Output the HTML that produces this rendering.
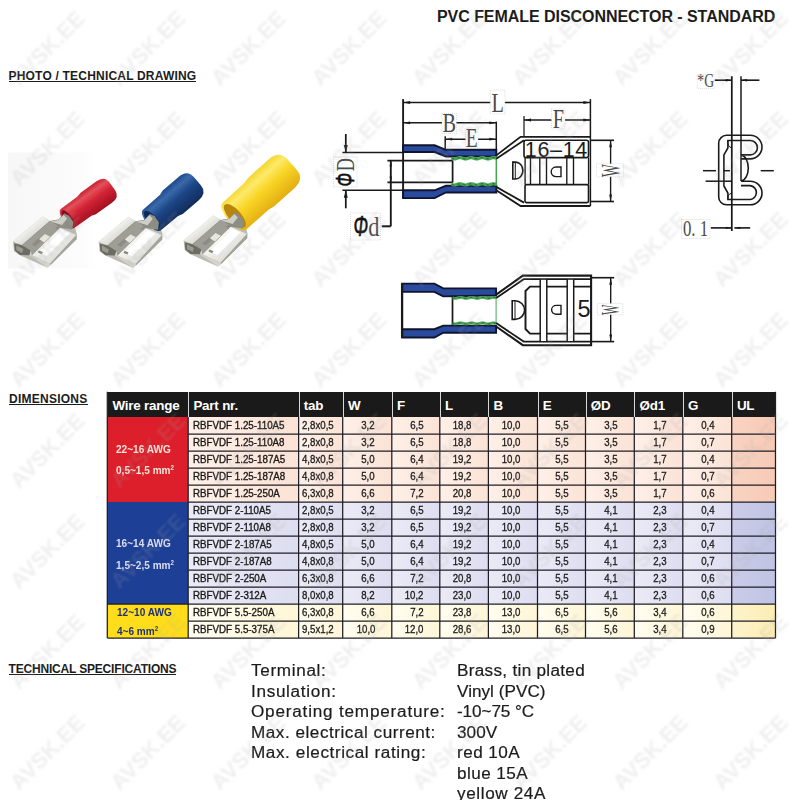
<!DOCTYPE html>
<html lang="en">
<head>
<meta charset="utf-8">
<title>PVC FEMALE DISCONNECTOR - STANDARD</title>
<style>
html,body{margin:0;padding:0;background:#fff;}
body{width:789px;height:800px;position:relative;overflow:hidden;font-family:"Liberation Sans",sans-serif;color:#1a1a1a;}
.abs{position:absolute;white-space:nowrap;}
.title{left:437px;top:7px;font-size:16px;font-weight:bold;line-height:20px;letter-spacing:-0.05px;color:#1c1c1c;}
.sec{font-size:12px;font-weight:bold;line-height:12px;height:11px;color:#1c1c1c;border-bottom:1.3px solid #1c1c1c;padding-bottom:0;}
.th-bg{position:absolute;background:#1b1a1a;}
.th{position:absolute;box-sizing:border-box;color:#fff;font-weight:bold;font-size:13.4px;letter-spacing:-0.2px;padding-left:4.2px;white-space:nowrap;border-left:1px solid #d8d8d8;}
.td{position:absolute;box-sizing:border-box;font-size:10.5px;white-space:nowrap;color:#1a1a1a;-webkit-text-stroke:0.3px #1a1a1a;}
.td span{display:inline-block;transform:scaleX(0.92);}
.r{background:linear-gradient(90deg,#fef0e8,#fbe2d5);}
.b{background:linear-gradient(90deg,#ebebf7,#dcddf0);}
.y{background:linear-gradient(90deg,#fffdf0,#fff6d6);}
.ru{background:linear-gradient(90deg,#f9d3c2,#f7cab6);}
.bu{background:linear-gradient(90deg,#cacce9,#c0c3e3);}
.yu{background:linear-gradient(90deg,#fdf4cc,#fcedb4);}
.pn{padding-left:5px;-webkit-text-stroke:0.35px #1a1a1a;}
.pn span{transform-origin:0 50%;transform:scaleX(0.93);}
.tab{padding-left:3.6px;}
.tab span{transform-origin:0 50%;}
.num{text-align:right;padding-right:16.7px;}
.num span{transform-origin:100% 50%;}
.wr{position:absolute;}
.wl{position:absolute;white-space:nowrap;font-weight:bold;font-size:10.6px;line-height:14px;transform-origin:0 50%;transform:scaleX(0.95);}
.wl sup{font-size:6.5px;vertical-align:baseline;position:relative;top:-4px;}
.spec{font-size:16px;line-height:20.5px;color:#1c1c1c;transform-origin:0 50%;transform:scaleX(1.07);-webkit-text-stroke:0.2px #1c1c1c;}
svg{position:absolute;left:0;top:0;}
svg text{font-family:"Liberation Serif",serif;}
svg .sans{font-family:"Liberation Sans",sans-serif;}
svg .phi{font-style:italic;font-weight:normal;stroke:#111;stroke-width:0.7px;}
</style>
</head>
<body>
<div class="abs title">PVC FEMALE DISCONNECTOR - STANDARD</div>
<div class="abs sec" style="left:8.5px;top:69.5px;letter-spacing:0.2px">PHOTO / TECHNICAL DRAWING</div>
<div class="abs sec" style="left:9px;top:392.5px;letter-spacing:0.25px">DIMENSIONS</div>
<div class="abs sec" style="left:8.5px;top:662.5px;letter-spacing:-0.18px">TECHNICAL SPECIFICATIONS</div><svg width="789" height="800" viewBox="0 0 789 800">
<defs>
<linearGradient id="pbg" x1="0" y1="0" x2="1" y2="0"><stop offset="0" stop-color="#f7f7f7"/><stop offset="0.8" stop-color="#fcfcfc"/><stop offset="1" stop-color="#ffffff"/></linearGradient>
<linearGradient id="gred" x1="0" y1="0" x2="0" y2="1"><stop offset="0" stop-color="#c8202f"/><stop offset="0.22" stop-color="#e3505a"/><stop offset="0.5" stop-color="#d32435"/><stop offset="1" stop-color="#a30f22"/></linearGradient>
<linearGradient id="gblue" x1="0" y1="0" x2="0" y2="1"><stop offset="0" stop-color="#1f4a8c"/><stop offset="0.22" stop-color="#3a68aa"/><stop offset="0.5" stop-color="#1d4686"/><stop offset="1" stop-color="#102c5c"/></linearGradient>
<linearGradient id="gyel" x1="0" y1="0" x2="0" y2="1"><stop offset="0" stop-color="#f5d530"/><stop offset="0.22" stop-color="#fdea6a"/><stop offset="0.5" stop-color="#f9d526"/><stop offset="1" stop-color="#e3ae12"/></linearGradient>
<linearGradient id="gm1" x1="0" y1="0" x2="1" y2="1"><stop offset="0" stop-color="#cdcdc6"/><stop offset="0.4" stop-color="#f2f2ee"/><stop offset="1" stop-color="#b4b4ac"/></linearGradient>
<linearGradient id="gm2" x1="0" y1="0" x2="1" y2="1"><stop offset="0" stop-color="#c9c9c2"/><stop offset="0.35" stop-color="#f6f6f3"/><stop offset="0.7" stop-color="#dededa"/><stop offset="1" stop-color="#b2b2aa"/></linearGradient>
<filter id="soft" x="-5%" y="-5%" width="110%" height="110%"><feGaussianBlur stdDeviation="0.6"/></filter>
<g id="rec">
<polygon points="13.0,241.5 42.6,216.4 50.1,221.0 58.6,219.6 64.3,213.6 73.4,222.1 77.1,234.9 76.6,239.2 50.6,264.9 47.2,267.5 19.8,255.2 14.1,251.2" fill="#bcbcb4"/>
<polygon points="22.1,244.9 49.5,221.0 59.8,227.8 31.8,255.2" fill="#9e9e96"/>
<polygon points="31.8,244.4 39.2,238.1 42.6,239.8 35.2,246.6" fill="#8c8c84"/>
<polygon points="39.2,239.2 44.9,234.1 50.6,236.9 44.4,242.6" fill="#e6e6e0"/>
<polygon points="55.2,227.8 58.6,225.5 60.9,227.8 58.0,230.7" fill="#8d8d85"/>
<polygon points="13.0,241.5 42.6,216.4 50.1,221.0 22.1,245.2" fill="url(#gm1)"/>
<polygon points="14.1,243.2 22.1,245.2 30.7,250.6 29.5,255.2 19.8,255.0 14.7,250.6" fill="#6c6c63"/>
<polygon points="16.4,245.2 23.3,248.9 22.1,252.9 16.4,250.1" fill="#9a9a91"/>
<polygon points="31.8,255.2 59.8,227.8 76.3,234.9 50.1,263.7" fill="url(#gm2)"/>
<polygon points="39.2,252.3 62.0,230.3 69.4,233.5 46.6,256.3" fill="#ffffff"/>
<polygon points="30.7,250.6 31.8,255.2 50.1,263.7 50.6,264.9 47.2,267.5 29.5,255.2" fill="#d4d4cd"/>
<polygon points="38.8,250.4 42.9,252.0 41.7,254.3 37.9,252.6" fill="#8a8a82"/>
<polyline points="22.1,245.2 50.1,221.0" fill="none" stroke="#85857d" stroke-width="0.7"/>
<polyline points="31.8,255.2 59.8,227.8" fill="none" stroke="#8f8f87" stroke-width="0.6"/>
<polygon points="50.1,263.7 76.3,234.9 76.6,239.2 50.6,264.9" fill="#a3a39b"/>
</g>
<g id="neck">
<polygon points="50.1,221.0 58.6,219.6 64.3,213.6 68.9,215.8 73.4,222.1 72.3,229.5 59.8,227.8" fill="#8c8d83"/>
<polygon points="50.6,221.5 58.6,220.1 63.7,215.0 67.2,218.5 62.0,225.0" fill="#cfcfc8"/>
</g></defs>
<g filter="url(#soft)">
<rect x="8" y="152.5" width="92" height="116" fill="url(#pbg)"/>
<use href="#rec" transform="translate(0,0)"/>
<g transform="translate(67.5,218.5) rotate(-35.8)">
<path d="M0,-11.6 L21.0,-11.9 L25.4,-13.2 L45.3,-13.2 Q55.2,-13.2 55.2,-4.6 L55.2,4.6 Q55.2,13.2 45.3,13.2 L25.4,13.2 L21.0,11.9 L0,11.6 A4.9,11.6 0 0 1 0,-11.6 Z" fill="url(#gred)"/>
<ellipse cx="0.3" cy="0" rx="3.9" ry="9.7" fill="#8e1020"/>
</g>
<use href="#neck" transform="translate(0,0)"/>
<use href="#rec" transform="translate(85.6,0.3)"/>
<g transform="translate(151.8,220.1) rotate(-40.5)">
<path d="M0,-13.6 L22.7,-13.9 L27.5,-15.4 L48.3,-15.4 Q59.9,-15.4 59.9,-5.4 L59.9,5.4 Q59.9,15.4 48.3,15.4 L27.5,15.4 L22.7,13.9 L0,13.6 A5.7,13.6 0 0 1 0,-13.6 Z" fill="url(#gblue)"/>
<ellipse cx="0.3" cy="0" rx="4.6" ry="11.4" fill="#0f2a55"/>
</g>
<use href="#neck" transform="translate(85.6,0.3)"/>
<use href="#rec" transform="translate(170.6,-1)"/>
<g transform="translate(234.6,216.0) rotate(-42.0)">
<path d="M0,-17.8 L29.3,-18.1 L35.5,-19.3 L62.7,-19.3 Q77.2,-19.3 77.2,-6.8 L77.2,6.8 Q77.2,19.3 62.7,19.3 L35.5,19.3 L29.3,18.1 L0,17.8 A7.5,17.8 0 0 1 0,-17.8 Z" fill="url(#gyel)"/>
<ellipse cx="0.3" cy="0" rx="6.1" ry="15.0" fill="#b8860e"/>
</g>
<use href="#neck" transform="translate(170.6,-1)"/>
</g>
</svg><svg width="789" height="800" viewBox="0 0 789 800">
<line x1="403.1" y1="99.1" x2="403.1" y2="198.1" stroke="#1a1a1a" stroke-width="1.9" />
<line x1="590.4" y1="99.1" x2="590.4" y2="206.0" stroke="#1a1a1a" stroke-width="1.5" />
<line x1="403.1" y1="102.5" x2="590.4" y2="102.5" stroke="#1a1a1a" stroke-width="1.375" />
<polygon points="403.1,102.5 410.1,101.1 410.1,103.9" fill="#1a1a1a"/>
<polygon points="590.4,102.5 583.4,103.9 583.4,101.1" fill="#1a1a1a"/>
<line x1="403.1" y1="122.8" x2="496.3" y2="122.8" stroke="#1a1a1a" stroke-width="1.375" />
<polygon points="403.1,122.8 410.1,121.4 410.1,124.2" fill="#1a1a1a"/>
<polygon points="496.3,122.8 489.3,124.2 489.3,121.4" fill="#1a1a1a"/>
<line x1="496.3" y1="121.6" x2="496.3" y2="156.5" stroke="#1a1a1a" stroke-width="1.5" />
<line x1="445.2" y1="136.3" x2="445.2" y2="156.0" stroke="#1a1a1a" stroke-width="1.5" />
<line x1="445.2" y1="139.2" x2="496.3" y2="139.2" stroke="#1a1a1a" stroke-width="1.375" />
<polygon points="445.2,139.2 452.2,137.8 452.2,140.6" fill="#1a1a1a"/>
<polygon points="496.3,139.2 489.3,140.6 489.3,137.8" fill="#1a1a1a"/>
<line x1="524.0" y1="116.0" x2="524.0" y2="136.3" stroke="#1a1a1a" stroke-width="1.25" />
<line x1="524.0" y1="120.0" x2="590.4" y2="120.0" stroke="#1a1a1a" stroke-width="1.375" />
<polygon points="524.0,120.0 531.0,118.6 531.0,121.4" fill="#1a1a1a"/>
<polygon points="590.4,120.0 583.4,121.4 583.4,118.6" fill="#1a1a1a"/>
<line x1="590.4" y1="140.3" x2="614.0" y2="140.3" stroke="#1a1a1a" stroke-width="1.625" />
<line x1="590.4" y1="201.5" x2="614.0" y2="201.5" stroke="#1a1a1a" stroke-width="1.625" />
<line x1="610.6" y1="140.3" x2="610.6" y2="201.5" stroke="#1a1a1a" stroke-width="1.375" />
<polygon points="610.6,140.3 612.0,147.3 609.2,147.3" fill="#1a1a1a"/>
<polygon points="610.6,201.5 609.2,194.5 612.0,194.5" fill="#1a1a1a"/>
<line x1="342.4" y1="152.5" x2="403.1" y2="152.5" stroke="#1a1a1a" stroke-width="1.6" />
<line x1="342.4" y1="190.3" x2="403.1" y2="190.3" stroke="#1a1a1a" stroke-width="1.6" />
<line x1="345.8" y1="134.0" x2="345.8" y2="152.5" stroke="#1a1a1a" stroke-width="1.75" />
<polygon points="345.8,152.5 343.8,145.0 347.8,145.0" fill="#1a1a1a"/>
<line x1="345.8" y1="208.3" x2="345.8" y2="190.3" stroke="#1a1a1a" stroke-width="1.75" />
<polygon points="345.8,190.3 347.8,197.8 343.8,197.8" fill="#1a1a1a"/>
<line x1="387.4" y1="160.6" x2="452.6" y2="160.6" stroke="#1a1a1a" stroke-width="1.6" />
<line x1="387.4" y1="182.4" x2="452.6" y2="182.4" stroke="#1a1a1a" stroke-width="1.6" />
<line x1="390.8" y1="160.6" x2="390.8" y2="226.3" stroke="#1a1a1a" stroke-width="1.875" />
<line x1="390.8" y1="226.3" x2="381.8" y2="226.3" stroke="#1a1a1a" stroke-width="2" />
<polygon points="390.8,160.6 392.0,166.6 389.6,166.6" fill="#1a1a1a"/>
<polygon points="390.8,182.4 389.6,176.4 392.0,176.4" fill="#1a1a1a"/>
<polygon points="403.1,145.3 434.6,145.3 445.9,149.8 496.3,149.8 496.3,156.5 445.9,156.5 434.6,152.0 403.1,152.0" fill="#2a4a9e" stroke="#10152e" stroke-width="1.9" />
<polygon points="403.1,190.3 434.6,190.3 445.9,185.8 496.3,185.8 496.3,192.5 445.9,192.5 434.6,198.1 403.1,198.1" fill="#2a4a9e" stroke="#10152e" stroke-width="1.9" />
<polyline points="451.5,158.2 453.4,158.8 455.2,158.8 457.1,158.2 459.0,157.6 460.8,157.6 462.7,158.2 464.6,158.8 466.4,158.8 468.3,158.2 470.2,157.6 472.0,157.6 473.9,158.2 475.8,158.8 477.6,158.8 479.5,158.2 481.4,157.6 483.2,157.6 485.1,158.2 487.0,158.8 488.8,158.8 490.7,158.2 492.6,157.6 494.4,157.6 496.3,158.2" fill="none" stroke="#47a552" stroke-width="3.2" />
<polyline points="451.5,158.2 453.4,158.8 455.2,158.8 457.1,158.2 459.0,157.6 460.8,157.6 462.7,158.2 464.6,158.8 466.4,158.8 468.3,158.2 470.2,157.6 472.0,157.6 473.9,158.2 475.8,158.8 477.6,158.8 479.5,158.2 481.4,157.6 483.2,157.6 485.1,158.2 487.0,158.8 488.8,158.8 490.7,158.2 492.6,157.6 494.4,157.6 496.3,158.2" fill="none" stroke="#1f5a2c" stroke-width="0.9" stroke-dasharray="2.5 3.5"/>
<polyline points="451.5,184.4 453.4,185.0 455.2,185.0 457.1,184.4 459.0,183.8 460.8,183.8 462.7,184.4 464.6,185.0 466.4,185.0 468.3,184.4 470.2,183.8 472.0,183.8 473.9,184.4 475.8,185.0 477.6,185.0 479.5,184.4 481.4,183.8 483.2,183.8 485.1,184.4 487.0,185.0 488.8,185.0 490.7,184.4 492.6,183.8 494.4,183.8 496.3,184.4" fill="none" stroke="#47a552" stroke-width="3.2" />
<polyline points="451.5,184.4 453.4,185.0 455.2,185.0 457.1,184.4 459.0,183.8 460.8,183.8 462.7,184.4 464.6,185.0 466.4,185.0 468.3,184.4 470.2,183.8 472.0,183.8 473.9,184.4 475.8,185.0 477.6,185.0 479.5,184.4 481.4,183.8 483.2,183.8 485.1,184.4 487.0,185.0 488.8,185.0 490.7,184.4 492.6,183.8 494.4,183.8 496.3,184.4" fill="none" stroke="#1f5a2c" stroke-width="0.9" stroke-dasharray="2.5 3.5"/>
<line x1="496.3" y1="156.5" x2="496.3" y2="185.8" stroke="#47a552" stroke-width="1.5" />
<line x1="452.6" y1="160.6" x2="452.6" y2="182.4" stroke="#1a1a1a" stroke-width="1.75" />
<polyline points="496.3,155.4 520.6,136.8 590.4,136.8" fill="none" stroke="#1a1a1a" stroke-width="1.7999999999999998" />
<polyline points="496.3,158.8 524.0,140.3" fill="none" stroke="#1a1a1a" stroke-width="1.7999999999999998" />
<polyline points="496.3,190.3 520.6,206.0 590.4,206.0" fill="none" stroke="#1a1a1a" stroke-width="1.7999999999999998" />
<polyline points="496.3,186.9 524.0,202.6" fill="none" stroke="#1a1a1a" stroke-width="1.7999999999999998" />
<rect x="524" y="140.3" width="64.5" height="17.3" rx="2" fill="#fff" stroke="#1a1a1a" stroke-width="1.6"/>
<rect x="525" y="184.6" width="63.5" height="18" rx="1.5" fill="#fff" stroke="#1a1a1a" stroke-width="1.6"/>
<line x1="588.5" y1="157.6" x2="588.5" y2="184.6" stroke="#1a1a1a" stroke-width="1.25" />
<line x1="525.1" y1="157.6" x2="525.1" y2="184.6" stroke="#1a1a1a" stroke-width="1.375" />
<line x1="530.5" y1="157.6" x2="530.5" y2="184.6" stroke="#1a1a1a" stroke-width="1.375" />
<line x1="539.8" y1="157.6" x2="539.8" y2="184.6" stroke="#1a1a1a" stroke-width="1.375" />
<line x1="546.5" y1="157.6" x2="546.5" y2="184.6" stroke="#1a1a1a" stroke-width="1.375" />
<line x1="566.8" y1="157.6" x2="566.8" y2="184.6" stroke="#1a1a1a" stroke-width="1.375" />
<line x1="573.5" y1="157.6" x2="573.5" y2="184.6" stroke="#1a1a1a" stroke-width="1.375" />
<path d="M512.8,162.1 L515.5,162.1 A7.4,8.45 0 0 1 515.5,179 L512.8,179 Z" fill="#fff" stroke="#1a1a1a" stroke-width="1.6"/>
<line x1="515.3" y1="162.1" x2="515.3" y2="179.0" stroke="#1a1a1a" stroke-width="1.0" />
<path d="M561,167 L556,167 A4.8,4.8 0 0 0 556,176.6 L561,176.6 Z" fill="#fff" stroke="#1a1a1a" stroke-width="1.4"/>
<text class="sans" x="524.8" y="156.6" font-size="21.5" textLength="62.5" lengthAdjust="spacing" fill="#1a1a1a">16–14</text>
<rect x="490.3" y="90.1" width="14.6" height="23.7" fill="#fff" stroke="#c8c8c8" stroke-width="0.6" stroke-dasharray="1 1"/>
<text transform="translate(497.6,111.5) scale(0.75,1)" font-size="27" text-anchor="middle" fill="#4a4a4a">L</text>
<rect x="442.0" y="113.5" width="14.5" height="20.0" fill="#fff" stroke="#c8c8c8" stroke-width="0.6" stroke-dasharray="1 1"/>
<text transform="translate(449.3,131.8) scale(0.75,1)" font-size="27" text-anchor="middle" fill="#4a4a4a">B</text>
<rect x="465.5" y="128.0" width="12.5" height="20.0" fill="#fff" stroke="#c8c8c8" stroke-width="0.6" stroke-dasharray="1 1"/>
<text transform="translate(471.7,146.6) scale(0.72,1)" font-size="27" text-anchor="middle" fill="#4a4a4a">E</text>
<rect x="551.5" y="109.0" width="13.5" height="20.0" fill="#fff" stroke="#c8c8c8" stroke-width="0.6" stroke-dasharray="1 1"/>
<text transform="translate(558.3,127.5) scale(0.75,1)" font-size="27" text-anchor="middle" fill="#4a4a4a">F</text>
<rect x="596.5" y="163.7" width="27.1" height="13.1" fill="#fff" stroke="#c8c8c8" stroke-width="0.6" stroke-dasharray="1 1"/>
<text transform="translate(619.8,170.6) rotate(-90) scale(0.5,1)" font-size="27" text-anchor="middle" fill="#4a4a4a">W</text>
<rect x="333.5" y="157.0" width="23.5" height="30.0" fill="#fff" stroke="#c8c8c8" stroke-width="0.6" stroke-dasharray="1 1"/>
<text class="sans phi" transform="translate(354.3,179.8) rotate(-90) scale(0.62,1)" font-size="26" text-anchor="middle" fill="#111">Φ</text>
<text transform="translate(354.0,164.6) rotate(-90) scale(0.7,1)" font-size="26" text-anchor="middle" fill="#4a4a4a">D</text>
<rect x="350.5" y="213.0" width="30.0" height="27.0" fill="#fff" stroke="#c8c8c8" stroke-width="0.6" stroke-dasharray="1 1"/>
<text class="sans phi" transform="translate(360.8,236.3) scale(0.6,1)" font-size="29" text-anchor="middle" fill="#111">Φ</text>
<text transform="translate(373.8,236.3) scale(0.8,1)" font-size="28" text-anchor="middle" fill="#4a4a4a">d</text>
<polygon points="402.1,283.6 434.4,283.6 443.2,288.4 496.1,288.4 496.1,295.5 443.2,296.4 434.4,291.9 402.1,291.9" fill="#2a4a9e" stroke="#10152e" stroke-width="1.9" />
<polygon points="402.1,329.2 434.4,329.2 443.2,325.6 496.1,325.6 496.1,332.7 443.2,332.7 434.4,337.5 402.1,337.5" fill="#2a4a9e" stroke="#10152e" stroke-width="1.9" />
<line x1="402.1" y1="283.6" x2="402.1" y2="337.5" stroke="#1a1a1a" stroke-width="2.3" />
<line x1="452.5" y1="295.5" x2="452.5" y2="325.6" stroke="#1a1a1a" stroke-width="1.75" />
<polyline points="452.5,297.8 454.3,298.3 456.1,298.3 457.9,297.8 459.8,297.3 461.6,297.3 463.4,297.8 465.2,298.3 467.0,298.3 468.9,297.8 470.7,297.3 472.5,297.3 474.3,297.8 476.1,298.3 477.9,298.3 479.8,297.8 481.6,297.3 483.4,297.3 485.2,297.8 487.0,298.3 488.8,298.3 490.7,297.8 492.5,297.3 494.3,297.3 496.1,297.8" fill="none" stroke="#47a552" stroke-width="2.8" />
<polyline points="452.5,297.8 454.3,298.3 456.1,298.3 457.9,297.8 459.8,297.3 461.6,297.3 463.4,297.8 465.2,298.3 467.0,298.3 468.9,297.8 470.7,297.3 472.5,297.3 474.3,297.8 476.1,298.3 477.9,298.3 479.8,297.8 481.6,297.3 483.4,297.3 485.2,297.8 487.0,298.3 488.8,298.3 490.7,297.8 492.5,297.3 494.3,297.3 496.1,297.8" fill="none" stroke="#1f5a2c" stroke-width="0.9" stroke-dasharray="2.5 3.5"/>
<polyline points="452.5,323.4 454.3,323.9 456.1,323.9 457.9,323.4 459.8,322.9 461.6,322.9 463.4,323.4 465.2,323.9 467.0,323.9 468.9,323.4 470.7,322.9 472.5,322.9 474.3,323.4 476.1,323.9 477.9,323.9 479.8,323.4 481.6,322.9 483.4,322.9 485.2,323.4 487.0,323.9 488.8,323.9 490.7,323.4 492.5,322.9 494.3,322.9 496.1,323.4" fill="none" stroke="#47a552" stroke-width="2.8" />
<polyline points="452.5,323.4 454.3,323.9 456.1,323.9 457.9,323.4 459.8,322.9 461.6,322.9 463.4,323.4 465.2,323.9 467.0,323.9 468.9,323.4 470.7,322.9 472.5,322.9 474.3,323.4 476.1,323.9 477.9,323.9 479.8,323.4 481.6,322.9 483.4,322.9 485.2,323.4 487.0,323.9 488.8,323.9 490.7,323.4 492.5,322.9 494.3,322.9 496.1,323.4" fill="none" stroke="#1f5a2c" stroke-width="0.9" stroke-dasharray="2.5 3.5"/>
<line x1="496.1" y1="297.0" x2="496.1" y2="324.0" stroke="#47a552" stroke-width="1.0" />
<polyline points="496.2,294.6 522.8,275.6 591.1,275.6 591.1,345.2 522.8,345.2 496.2,326.5" fill="none" stroke="#1a1a1a" stroke-width="2.0999999999999996" />
<polyline points="496.2,298.1 523.7,279.2 591.1,279.2" fill="none" stroke="#1a1a1a" stroke-width="1.7999999999999998" />
<polyline points="496.2,323.0 523.7,341.6 591.1,341.6" fill="none" stroke="#1a1a1a" stroke-width="1.7999999999999998" />
<polyline points="591.0,286.6 530.0,286.6 525.5,291.0 525.5,329.0 530.0,333.6 591.0,333.6" fill="none" stroke="#1a1a1a" stroke-width="1.9500000000000002" />
<rect x="540.2" y="279.8" width="6.6" height="61.2" fill="#fff" stroke="none" stroke-width="1" />
<line x1="540.2" y1="279.2" x2="540.2" y2="341.6" stroke="#1a1a1a" stroke-width="1.5" />
<line x1="546.8" y1="279.2" x2="546.8" y2="341.6" stroke="#1a1a1a" stroke-width="1.5" />
<rect x="567.2" y="279.8" width="6.5" height="61.2" fill="#fff" stroke="none" stroke-width="1" />
<line x1="567.2" y1="279.2" x2="567.2" y2="341.6" stroke="#1a1a1a" stroke-width="1.5" />
<line x1="573.7" y1="279.2" x2="573.7" y2="341.6" stroke="#1a1a1a" stroke-width="1.5" />
<path d="M512.2,300.8 L515,300.8 A9.6,9.3 0 0 1 515,319.4 L512.2,319.4 Z" fill="#fff" stroke="#1a1a1a" stroke-width="1.6"/>
<line x1="515.0" y1="300.8" x2="515.0" y2="319.4" stroke="#1a1a1a" stroke-width="1.0" />
<path d="M561,305.4 L556.3,305.4 A4.7,4.4 0 0 0 556.3,314.2 L561,314.2 Z" fill="#fff" stroke="#1a1a1a" stroke-width="1.4"/>
<text class="sans" x="577.5" y="316.8" font-size="23.5" fill="#1a1a1a">5</text>
<line x1="591.1" y1="277.7" x2="614.2" y2="277.7" stroke="#1a1a1a" stroke-width="1.625" />
<line x1="591.1" y1="341.6" x2="614.2" y2="341.6" stroke="#1a1a1a" stroke-width="1.625" />
<line x1="610.7" y1="277.7" x2="610.7" y2="341.6" stroke="#1a1a1a" stroke-width="1.375" />
<polygon points="610.7,277.7 612.1,284.7 609.3,284.7" fill="#1a1a1a"/>
<polygon points="610.7,341.6 609.3,334.6 612.1,334.6" fill="#1a1a1a"/>
<rect x="597.4" y="303.4" width="25.5" height="11.4" fill="#fff" stroke="#c8c8c8" stroke-width="0.6" stroke-dasharray="1 1"/>
<text transform="translate(619.4,309.8) rotate(-90) scale(0.42,1)" font-size="26" text-anchor="middle" fill="#4a4a4a">W</text>
<line x1="731.8" y1="76.2" x2="731.8" y2="231.0" stroke="#1a1a1a" stroke-width="1.75" />
<line x1="741.0" y1="76.2" x2="741.0" y2="181.0" stroke="#1a1a1a" stroke-width="1.5" />
<line x1="714.8" y1="80.2" x2="731.8" y2="80.2" stroke="#1a1a1a" stroke-width="1.625" />
<polygon points="731.8,80.2 725.8,81.4 725.8,79.0" fill="#1a1a1a"/>
<line x1="759.4" y1="80.2" x2="741.0" y2="80.2" stroke="#1a1a1a" stroke-width="1.625" />
<polygon points="741.0,80.2 747.0,79.0 747.0,81.4" fill="#1a1a1a"/>
<path d="M741,158.9 L750.2,158.9 A11.8,11.8 0 0 0 750.2,135.3 L726.6,135.3 A7.9,7.9 0 0 0 718.7,143.1 L718.7,196.9 A7.9,7.9 0 0 0 726.6,204.8 L750.2,204.8 A11.8,11.8 0 0 0 750.2,181.2 L741,181.2" fill="none" stroke="#1a1a1a" stroke-width="1.6"/>
<path d="M741,154.9 L750.2,154.9 A7.2,7.2 0 0 0 750.2,140.5 L727.9,140.5 L727.9,148 L723.9,154.9 L723.9,186 L727.9,193 L727.9,199.5 L750.2,199.5 A7,7 0 0 0 750.2,185.6 L741,185.6" fill="none" stroke="#1a1a1a" stroke-width="1.6"/>
<path d="M741,154.9 A8,13.2 0 0 1 741,181.2" fill="none" stroke="#1a1a1a" stroke-width="1.6"/>
<path d="M731.8,148 A5,6 0 0 1 727.9,140.5 M731.8,193 A5,6 0 0 0 727.9,199.5" fill="none" stroke="#1a1a1a" stroke-width="1"/>
<line x1="703.0" y1="170.7" x2="716.0" y2="170.7" stroke="#1a1a1a" stroke-width="1.5" />
<line x1="724.0" y1="170.7" x2="730.0" y2="170.7" stroke="#1a1a1a" stroke-width="1.5" />
<line x1="760.7" y1="170.7" x2="773.8" y2="170.7" stroke="#1a1a1a" stroke-width="1.5" />
<line x1="705.6" y1="181.2" x2="731.8" y2="181.2" stroke="#1a1a1a" stroke-width="1.5" />
<line x1="710.8" y1="227.9" x2="731.8" y2="227.9" stroke="#1a1a1a" stroke-width="1.625" />
<polygon points="731.8,227.9 725.8,229.1 725.8,226.7" fill="#1a1a1a"/>
<line x1="750.2" y1="227.9" x2="734.4" y2="227.9" stroke="#1a1a1a" stroke-width="1.625" />
<polygon points="734.4,227.9 740.4,226.7 740.4,229.1" fill="#1a1a1a"/>
<rect x="697.2" y="74.5" width="16.8" height="14.0" fill="#fff" stroke="#c8c8c8" stroke-width="0.6" stroke-dasharray="1 1"/>
<text transform="translate(705.7,86.5) scale(0.72,1)" font-size="19" text-anchor="middle" fill="#4a4a4a">*G</text>
<rect x="681.5" y="219.5" width="28.5" height="19.0" fill="#fff" stroke="#c8c8c8" stroke-width="0.6" stroke-dasharray="1 1"/>
<text transform="translate(695.5,236.0) scale(0.7,1)" font-size="24" text-anchor="middle" fill="#4a4a4a">0. 1</text>
</svg><div class="th-bg" style="left:107.3px;top:391.8px;width:668.2px;height:25.2px"></div>
<div class="th" style="left:107.3px;top:391.8px;width:80.9px;height:25.2px;line-height:27.2px">Wire range</div>
<div class="th" style="left:188.2px;top:391.8px;width:110.4px;height:25.2px;line-height:27.2px">Part nr.</div>
<div class="th" style="left:298.6px;top:391.8px;width:44.1px;height:25.2px;line-height:27.2px">tab</div>
<div class="th" style="left:342.7px;top:391.8px;width:49.1px;height:25.2px;line-height:27.2px">W</div>
<div class="th" style="left:391.8px;top:391.8px;width:48.0px;height:25.2px;line-height:27.2px">F</div>
<div class="th" style="left:439.8px;top:391.8px;width:48.6px;height:25.2px;line-height:27.2px">L</div>
<div class="th" style="left:488.4px;top:391.8px;width:49.1px;height:25.2px;line-height:27.2px">B</div>
<div class="th" style="left:537.5px;top:391.8px;width:48.0px;height:25.2px;line-height:27.2px">E</div>
<div class="th" style="left:585.5px;top:391.8px;width:48.8px;height:25.2px;line-height:27.2px">ØD</div>
<div class="th" style="left:634.3px;top:391.8px;width:48.5px;height:25.2px;line-height:27.2px">Ød1</div>
<div class="th" style="left:682.8px;top:391.8px;width:48.9px;height:25.2px;line-height:27.2px">G</div>
<div class="th" style="left:731.7px;top:391.8px;width:43.8px;height:25.2px;line-height:27.2px">UL</div>
<div class="td r pn" style="left:188.2px;top:417.00px;width:110.4px;height:17.0px;line-height:17.3px"><span>RBFVDF 1.25-110A5</span></div>
<div class="td r tab" style="left:298.6px;top:417.00px;width:44.1px;height:17.0px;line-height:17.3px"><span>2,8x0,5</span></div>
<div class="td r num" style="left:342.7px;top:417.00px;width:49.1px;height:17.0px;line-height:17.3px"><span>3,2</span></div>
<div class="td r num" style="left:391.8px;top:417.00px;width:48.0px;height:17.0px;line-height:17.3px"><span>6,5</span></div>
<div class="td r num" style="left:439.8px;top:417.00px;width:48.6px;height:17.0px;line-height:17.3px"><span>18,8</span></div>
<div class="td r num" style="left:488.4px;top:417.00px;width:49.1px;height:17.0px;line-height:17.3px"><span>10,0</span></div>
<div class="td r num" style="left:537.5px;top:417.00px;width:48.0px;height:17.0px;line-height:17.3px"><span>5,5</span></div>
<div class="td r num" style="left:585.5px;top:417.00px;width:48.8px;height:17.0px;line-height:17.3px"><span>3,5</span></div>
<div class="td r num" style="left:634.3px;top:417.00px;width:48.5px;height:17.0px;line-height:17.3px"><span>1,7</span></div>
<div class="td r num" style="left:682.8px;top:417.00px;width:48.9px;height:17.0px;line-height:17.3px"><span>0,4</span></div>
<div class="td ru" style="left:731.7px;top:417.00px;width:43.8px;height:17.0px"></div>
<div class="td r pn" style="left:188.2px;top:434.00px;width:110.4px;height:17.0px;line-height:17.3px"><span>RBFVDF 1.25-110A8</span></div>
<div class="td r tab" style="left:298.6px;top:434.00px;width:44.1px;height:17.0px;line-height:17.3px"><span>2,8x0,8</span></div>
<div class="td r num" style="left:342.7px;top:434.00px;width:49.1px;height:17.0px;line-height:17.3px"><span>3,2</span></div>
<div class="td r num" style="left:391.8px;top:434.00px;width:48.0px;height:17.0px;line-height:17.3px"><span>6,5</span></div>
<div class="td r num" style="left:439.8px;top:434.00px;width:48.6px;height:17.0px;line-height:17.3px"><span>18,8</span></div>
<div class="td r num" style="left:488.4px;top:434.00px;width:49.1px;height:17.0px;line-height:17.3px"><span>10,0</span></div>
<div class="td r num" style="left:537.5px;top:434.00px;width:48.0px;height:17.0px;line-height:17.3px"><span>5,5</span></div>
<div class="td r num" style="left:585.5px;top:434.00px;width:48.8px;height:17.0px;line-height:17.3px"><span>3,5</span></div>
<div class="td r num" style="left:634.3px;top:434.00px;width:48.5px;height:17.0px;line-height:17.3px"><span>1,7</span></div>
<div class="td r num" style="left:682.8px;top:434.00px;width:48.9px;height:17.0px;line-height:17.3px"><span>0,7</span></div>
<div class="td ru" style="left:731.7px;top:434.00px;width:43.8px;height:17.0px"></div>
<div class="td r pn" style="left:188.2px;top:451.00px;width:110.4px;height:17.0px;line-height:17.3px"><span>RBFVDF 1.25-187A5</span></div>
<div class="td r tab" style="left:298.6px;top:451.00px;width:44.1px;height:17.0px;line-height:17.3px"><span>4,8x0,5</span></div>
<div class="td r num" style="left:342.7px;top:451.00px;width:49.1px;height:17.0px;line-height:17.3px"><span>5,0</span></div>
<div class="td r num" style="left:391.8px;top:451.00px;width:48.0px;height:17.0px;line-height:17.3px"><span>6,4</span></div>
<div class="td r num" style="left:439.8px;top:451.00px;width:48.6px;height:17.0px;line-height:17.3px"><span>19,2</span></div>
<div class="td r num" style="left:488.4px;top:451.00px;width:49.1px;height:17.0px;line-height:17.3px"><span>10,0</span></div>
<div class="td r num" style="left:537.5px;top:451.00px;width:48.0px;height:17.0px;line-height:17.3px"><span>5,5</span></div>
<div class="td r num" style="left:585.5px;top:451.00px;width:48.8px;height:17.0px;line-height:17.3px"><span>3,5</span></div>
<div class="td r num" style="left:634.3px;top:451.00px;width:48.5px;height:17.0px;line-height:17.3px"><span>1,7</span></div>
<div class="td r num" style="left:682.8px;top:451.00px;width:48.9px;height:17.0px;line-height:17.3px"><span>0,4</span></div>
<div class="td ru" style="left:731.7px;top:451.00px;width:43.8px;height:17.0px"></div>
<div class="td r pn" style="left:188.2px;top:468.00px;width:110.4px;height:17.0px;line-height:17.3px"><span>RBFVDF 1.25-187A8</span></div>
<div class="td r tab" style="left:298.6px;top:468.00px;width:44.1px;height:17.0px;line-height:17.3px"><span>4,8x0,8</span></div>
<div class="td r num" style="left:342.7px;top:468.00px;width:49.1px;height:17.0px;line-height:17.3px"><span>5,0</span></div>
<div class="td r num" style="left:391.8px;top:468.00px;width:48.0px;height:17.0px;line-height:17.3px"><span>6,4</span></div>
<div class="td r num" style="left:439.8px;top:468.00px;width:48.6px;height:17.0px;line-height:17.3px"><span>19,2</span></div>
<div class="td r num" style="left:488.4px;top:468.00px;width:49.1px;height:17.0px;line-height:17.3px"><span>10,0</span></div>
<div class="td r num" style="left:537.5px;top:468.00px;width:48.0px;height:17.0px;line-height:17.3px"><span>5,5</span></div>
<div class="td r num" style="left:585.5px;top:468.00px;width:48.8px;height:17.0px;line-height:17.3px"><span>3,5</span></div>
<div class="td r num" style="left:634.3px;top:468.00px;width:48.5px;height:17.0px;line-height:17.3px"><span>1,7</span></div>
<div class="td r num" style="left:682.8px;top:468.00px;width:48.9px;height:17.0px;line-height:17.3px"><span>0,7</span></div>
<div class="td ru" style="left:731.7px;top:468.00px;width:43.8px;height:17.0px"></div>
<div class="td r pn" style="left:188.2px;top:485.00px;width:110.4px;height:17.0px;line-height:17.3px"><span>RBFVDF 1.25-250A</span></div>
<div class="td r tab" style="left:298.6px;top:485.00px;width:44.1px;height:17.0px;line-height:17.3px"><span>6,3x0,8</span></div>
<div class="td r num" style="left:342.7px;top:485.00px;width:49.1px;height:17.0px;line-height:17.3px"><span>6,6</span></div>
<div class="td r num" style="left:391.8px;top:485.00px;width:48.0px;height:17.0px;line-height:17.3px"><span>7,2</span></div>
<div class="td r num" style="left:439.8px;top:485.00px;width:48.6px;height:17.0px;line-height:17.3px"><span>20,8</span></div>
<div class="td r num" style="left:488.4px;top:485.00px;width:49.1px;height:17.0px;line-height:17.3px"><span>10,0</span></div>
<div class="td r num" style="left:537.5px;top:485.00px;width:48.0px;height:17.0px;line-height:17.3px"><span>5,5</span></div>
<div class="td r num" style="left:585.5px;top:485.00px;width:48.8px;height:17.0px;line-height:17.3px"><span>3,5</span></div>
<div class="td r num" style="left:634.3px;top:485.00px;width:48.5px;height:17.0px;line-height:17.3px"><span>1,7</span></div>
<div class="td r num" style="left:682.8px;top:485.00px;width:48.9px;height:17.0px;line-height:17.3px"><span>0,6</span></div>
<div class="td ru" style="left:731.7px;top:485.00px;width:43.8px;height:17.0px"></div>
<div class="td b pn" style="left:188.2px;top:502.00px;width:110.4px;height:17.0px;line-height:17.3px"><span>RBFVDF 2-110A5</span></div>
<div class="td b tab" style="left:298.6px;top:502.00px;width:44.1px;height:17.0px;line-height:17.3px"><span>2,8x0,5</span></div>
<div class="td b num" style="left:342.7px;top:502.00px;width:49.1px;height:17.0px;line-height:17.3px"><span>3,2</span></div>
<div class="td b num" style="left:391.8px;top:502.00px;width:48.0px;height:17.0px;line-height:17.3px"><span>6,5</span></div>
<div class="td b num" style="left:439.8px;top:502.00px;width:48.6px;height:17.0px;line-height:17.3px"><span>19,2</span></div>
<div class="td b num" style="left:488.4px;top:502.00px;width:49.1px;height:17.0px;line-height:17.3px"><span>10,0</span></div>
<div class="td b num" style="left:537.5px;top:502.00px;width:48.0px;height:17.0px;line-height:17.3px"><span>5,5</span></div>
<div class="td b num" style="left:585.5px;top:502.00px;width:48.8px;height:17.0px;line-height:17.3px"><span>4,1</span></div>
<div class="td b num" style="left:634.3px;top:502.00px;width:48.5px;height:17.0px;line-height:17.3px"><span>2,3</span></div>
<div class="td b num" style="left:682.8px;top:502.00px;width:48.9px;height:17.0px;line-height:17.3px"><span>0,4</span></div>
<div class="td bu" style="left:731.7px;top:502.00px;width:43.8px;height:17.0px"></div>
<div class="td b pn" style="left:188.2px;top:519.00px;width:110.4px;height:17.0px;line-height:17.3px"><span>RBFVDF 2-110A8</span></div>
<div class="td b tab" style="left:298.6px;top:519.00px;width:44.1px;height:17.0px;line-height:17.3px"><span>2,8x0,8</span></div>
<div class="td b num" style="left:342.7px;top:519.00px;width:49.1px;height:17.0px;line-height:17.3px"><span>3,2</span></div>
<div class="td b num" style="left:391.8px;top:519.00px;width:48.0px;height:17.0px;line-height:17.3px"><span>6,5</span></div>
<div class="td b num" style="left:439.8px;top:519.00px;width:48.6px;height:17.0px;line-height:17.3px"><span>19,2</span></div>
<div class="td b num" style="left:488.4px;top:519.00px;width:49.1px;height:17.0px;line-height:17.3px"><span>10,0</span></div>
<div class="td b num" style="left:537.5px;top:519.00px;width:48.0px;height:17.0px;line-height:17.3px"><span>5,5</span></div>
<div class="td b num" style="left:585.5px;top:519.00px;width:48.8px;height:17.0px;line-height:17.3px"><span>4,1</span></div>
<div class="td b num" style="left:634.3px;top:519.00px;width:48.5px;height:17.0px;line-height:17.3px"><span>2,3</span></div>
<div class="td b num" style="left:682.8px;top:519.00px;width:48.9px;height:17.0px;line-height:17.3px"><span>0,7</span></div>
<div class="td bu" style="left:731.7px;top:519.00px;width:43.8px;height:17.0px"></div>
<div class="td b pn" style="left:188.2px;top:536.00px;width:110.4px;height:17.0px;line-height:17.3px"><span>RBFVDF 2-187A5</span></div>
<div class="td b tab" style="left:298.6px;top:536.00px;width:44.1px;height:17.0px;line-height:17.3px"><span>4,8x0,5</span></div>
<div class="td b num" style="left:342.7px;top:536.00px;width:49.1px;height:17.0px;line-height:17.3px"><span>5,0</span></div>
<div class="td b num" style="left:391.8px;top:536.00px;width:48.0px;height:17.0px;line-height:17.3px"><span>6,4</span></div>
<div class="td b num" style="left:439.8px;top:536.00px;width:48.6px;height:17.0px;line-height:17.3px"><span>19,2</span></div>
<div class="td b num" style="left:488.4px;top:536.00px;width:49.1px;height:17.0px;line-height:17.3px"><span>10,0</span></div>
<div class="td b num" style="left:537.5px;top:536.00px;width:48.0px;height:17.0px;line-height:17.3px"><span>5,5</span></div>
<div class="td b num" style="left:585.5px;top:536.00px;width:48.8px;height:17.0px;line-height:17.3px"><span>4,1</span></div>
<div class="td b num" style="left:634.3px;top:536.00px;width:48.5px;height:17.0px;line-height:17.3px"><span>2,3</span></div>
<div class="td b num" style="left:682.8px;top:536.00px;width:48.9px;height:17.0px;line-height:17.3px"><span>0,4</span></div>
<div class="td bu" style="left:731.7px;top:536.00px;width:43.8px;height:17.0px"></div>
<div class="td b pn" style="left:188.2px;top:553.00px;width:110.4px;height:17.0px;line-height:17.3px"><span>RBFVDF 2-187A8</span></div>
<div class="td b tab" style="left:298.6px;top:553.00px;width:44.1px;height:17.0px;line-height:17.3px"><span>4,8x0,8</span></div>
<div class="td b num" style="left:342.7px;top:553.00px;width:49.1px;height:17.0px;line-height:17.3px"><span>5,0</span></div>
<div class="td b num" style="left:391.8px;top:553.00px;width:48.0px;height:17.0px;line-height:17.3px"><span>6,4</span></div>
<div class="td b num" style="left:439.8px;top:553.00px;width:48.6px;height:17.0px;line-height:17.3px"><span>19,2</span></div>
<div class="td b num" style="left:488.4px;top:553.00px;width:49.1px;height:17.0px;line-height:17.3px"><span>10,0</span></div>
<div class="td b num" style="left:537.5px;top:553.00px;width:48.0px;height:17.0px;line-height:17.3px"><span>5,5</span></div>
<div class="td b num" style="left:585.5px;top:553.00px;width:48.8px;height:17.0px;line-height:17.3px"><span>4,1</span></div>
<div class="td b num" style="left:634.3px;top:553.00px;width:48.5px;height:17.0px;line-height:17.3px"><span>2,3</span></div>
<div class="td b num" style="left:682.8px;top:553.00px;width:48.9px;height:17.0px;line-height:17.3px"><span>0,7</span></div>
<div class="td bu" style="left:731.7px;top:553.00px;width:43.8px;height:17.0px"></div>
<div class="td b pn" style="left:188.2px;top:570.00px;width:110.4px;height:17.0px;line-height:17.3px"><span>RBFVDF 2-250A</span></div>
<div class="td b tab" style="left:298.6px;top:570.00px;width:44.1px;height:17.0px;line-height:17.3px"><span>6,3x0,8</span></div>
<div class="td b num" style="left:342.7px;top:570.00px;width:49.1px;height:17.0px;line-height:17.3px"><span>6,6</span></div>
<div class="td b num" style="left:391.8px;top:570.00px;width:48.0px;height:17.0px;line-height:17.3px"><span>7,2</span></div>
<div class="td b num" style="left:439.8px;top:570.00px;width:48.6px;height:17.0px;line-height:17.3px"><span>20,8</span></div>
<div class="td b num" style="left:488.4px;top:570.00px;width:49.1px;height:17.0px;line-height:17.3px"><span>10,0</span></div>
<div class="td b num" style="left:537.5px;top:570.00px;width:48.0px;height:17.0px;line-height:17.3px"><span>5,5</span></div>
<div class="td b num" style="left:585.5px;top:570.00px;width:48.8px;height:17.0px;line-height:17.3px"><span>4,1</span></div>
<div class="td b num" style="left:634.3px;top:570.00px;width:48.5px;height:17.0px;line-height:17.3px"><span>2,3</span></div>
<div class="td b num" style="left:682.8px;top:570.00px;width:48.9px;height:17.0px;line-height:17.3px"><span>0,6</span></div>
<div class="td bu" style="left:731.7px;top:570.00px;width:43.8px;height:17.0px"></div>
<div class="td b pn" style="left:188.2px;top:587.00px;width:110.4px;height:17.0px;line-height:17.3px"><span>RBFVDF 2-312A</span></div>
<div class="td b tab" style="left:298.6px;top:587.00px;width:44.1px;height:17.0px;line-height:17.3px"><span>8,0x0,8</span></div>
<div class="td b num" style="left:342.7px;top:587.00px;width:49.1px;height:17.0px;line-height:17.3px"><span>8,2</span></div>
<div class="td b num" style="left:391.8px;top:587.00px;width:48.0px;height:17.0px;line-height:17.3px"><span>10,2</span></div>
<div class="td b num" style="left:439.8px;top:587.00px;width:48.6px;height:17.0px;line-height:17.3px"><span>23,0</span></div>
<div class="td b num" style="left:488.4px;top:587.00px;width:49.1px;height:17.0px;line-height:17.3px"><span>10,0</span></div>
<div class="td b num" style="left:537.5px;top:587.00px;width:48.0px;height:17.0px;line-height:17.3px"><span>5,5</span></div>
<div class="td b num" style="left:585.5px;top:587.00px;width:48.8px;height:17.0px;line-height:17.3px"><span>4,1</span></div>
<div class="td b num" style="left:634.3px;top:587.00px;width:48.5px;height:17.0px;line-height:17.3px"><span>2,3</span></div>
<div class="td b num" style="left:682.8px;top:587.00px;width:48.9px;height:17.0px;line-height:17.3px"><span>0,6</span></div>
<div class="td bu" style="left:731.7px;top:587.00px;width:43.8px;height:17.0px"></div>
<div class="td y pn" style="left:188.2px;top:604.00px;width:110.4px;height:17.0px;line-height:17.3px"><span>RBFVDF 5.5-250A</span></div>
<div class="td y tab" style="left:298.6px;top:604.00px;width:44.1px;height:17.0px;line-height:17.3px"><span>6,3x0,8</span></div>
<div class="td y num" style="left:342.7px;top:604.00px;width:49.1px;height:17.0px;line-height:17.3px"><span>6,6</span></div>
<div class="td y num" style="left:391.8px;top:604.00px;width:48.0px;height:17.0px;line-height:17.3px"><span>7,2</span></div>
<div class="td y num" style="left:439.8px;top:604.00px;width:48.6px;height:17.0px;line-height:17.3px"><span>23,8</span></div>
<div class="td y num" style="left:488.4px;top:604.00px;width:49.1px;height:17.0px;line-height:17.3px"><span>13,0</span></div>
<div class="td y num" style="left:537.5px;top:604.00px;width:48.0px;height:17.0px;line-height:17.3px"><span>6,5</span></div>
<div class="td y num" style="left:585.5px;top:604.00px;width:48.8px;height:17.0px;line-height:17.3px"><span>5,6</span></div>
<div class="td y num" style="left:634.3px;top:604.00px;width:48.5px;height:17.0px;line-height:17.3px"><span>3,4</span></div>
<div class="td y num" style="left:682.8px;top:604.00px;width:48.9px;height:17.0px;line-height:17.3px"><span>0,6</span></div>
<div class="td yu" style="left:731.7px;top:604.00px;width:43.8px;height:17.0px"></div>
<div class="td y pn" style="left:188.2px;top:621.00px;width:110.4px;height:17.0px;line-height:17.3px"><span>RBFVDF 5.5-375A</span></div>
<div class="td y tab" style="left:298.6px;top:621.00px;width:44.1px;height:17.0px;line-height:17.3px"><span>9,5x1,2</span></div>
<div class="td y num" style="left:342.7px;top:621.00px;width:49.1px;height:17.0px;line-height:17.3px"><span>10,0</span></div>
<div class="td y num" style="left:391.8px;top:621.00px;width:48.0px;height:17.0px;line-height:17.3px"><span>12,0</span></div>
<div class="td y num" style="left:439.8px;top:621.00px;width:48.6px;height:17.0px;line-height:17.3px"><span>28,6</span></div>
<div class="td y num" style="left:488.4px;top:621.00px;width:49.1px;height:17.0px;line-height:17.3px"><span>13,0</span></div>
<div class="td y num" style="left:537.5px;top:621.00px;width:48.0px;height:17.0px;line-height:17.3px"><span>6,5</span></div>
<div class="td y num" style="left:585.5px;top:621.00px;width:48.8px;height:17.0px;line-height:17.3px"><span>5,6</span></div>
<div class="td y num" style="left:634.3px;top:621.00px;width:48.5px;height:17.0px;line-height:17.3px"><span>3,4</span></div>
<div class="td y num" style="left:682.8px;top:621.00px;width:48.9px;height:17.0px;line-height:17.3px"><span>0,9</span></div>
<div class="td yu" style="left:731.7px;top:621.00px;width:43.8px;height:17.0px"></div><div class="wr" style="left:107.3px;top:417.0px;width:80.9px;height:85.00px;background:#dc1f2b"></div>
<div class="wr" style="left:107.3px;top:502.00px;width:80.9px;height:102.00px;background:#1d3f95"></div>
<div class="wr" style="left:107.3px;top:604.00px;width:80.9px;height:34.00px;background:#ffdd1a"></div>
<div class="wl" style="left:116.2px;top:442.3px;color:#fbe4d8">22~16 AWG</div>
<div class="wl" style="left:116.2px;top:463.2px;color:#fbe4d8">0,5~1,5 mm<sup>2</sup></div>
<div class="wl" style="left:116.2px;top:536.4px;color:#dcdef2">16~14 AWG</div>
<div class="wl" style="left:116.2px;top:557.7px;color:#dcdef2">1,5~2,5 mm<sup>2</sup></div>
<div class="wl" style="left:117.1px;top:604.8px;color:#1f3278">12~10 AWG</div>
<div class="wl" style="left:117.1px;top:623.5px;color:#1f3278">4~6 mm<sup>2</sup></div>
<svg width="789" height="800" viewBox="0 0 789 800">
<line x1="188.2" y1="434.00" x2="775.5" y2="434.00" stroke="#1e1e26" stroke-width="1.25"/>
<line x1="188.2" y1="451.00" x2="775.5" y2="451.00" stroke="#1e1e26" stroke-width="1.25"/>
<line x1="188.2" y1="468.00" x2="775.5" y2="468.00" stroke="#1e1e26" stroke-width="1.25"/>
<line x1="188.2" y1="485.00" x2="775.5" y2="485.00" stroke="#1e1e26" stroke-width="1.25"/>
<line x1="188.2" y1="502.00" x2="775.5" y2="502.00" stroke="#1e1e26" stroke-width="1.25"/>
<line x1="188.2" y1="519.00" x2="775.5" y2="519.00" stroke="#1e1e26" stroke-width="1.25"/>
<line x1="188.2" y1="536.00" x2="775.5" y2="536.00" stroke="#1e1e26" stroke-width="1.25"/>
<line x1="188.2" y1="553.00" x2="775.5" y2="553.00" stroke="#1e1e26" stroke-width="1.25"/>
<line x1="188.2" y1="570.00" x2="775.5" y2="570.00" stroke="#1e1e26" stroke-width="1.25"/>
<line x1="188.2" y1="587.00" x2="775.5" y2="587.00" stroke="#1e1e26" stroke-width="1.25"/>
<line x1="107.3" y1="604.00" x2="775.5" y2="604.00" stroke="#1e1e26" stroke-width="1.25"/>
<line x1="188.2" y1="621.00" x2="775.5" y2="621.00" stroke="#1e1e26" stroke-width="1.25"/>
<line x1="107.3" y1="638.00" x2="775.5" y2="638.00" stroke="#1e1e26" stroke-width="1.25"/>
<line x1="188.2" y1="417.0" x2="188.2" y2="638.00" stroke="#1e1e26" stroke-width="1.25"/>
<line x1="298.6" y1="417.0" x2="298.6" y2="638.00" stroke="#1e1e26" stroke-width="1.25"/>
<line x1="342.7" y1="417.0" x2="342.7" y2="638.00" stroke="#1e1e26" stroke-width="1.25"/>
<line x1="391.8" y1="417.0" x2="391.8" y2="638.00" stroke="#1e1e26" stroke-width="1.25"/>
<line x1="439.8" y1="417.0" x2="439.8" y2="638.00" stroke="#1e1e26" stroke-width="1.25"/>
<line x1="488.4" y1="417.0" x2="488.4" y2="638.00" stroke="#1e1e26" stroke-width="1.25"/>
<line x1="537.5" y1="417.0" x2="537.5" y2="638.00" stroke="#1e1e26" stroke-width="1.25"/>
<line x1="585.5" y1="417.0" x2="585.5" y2="638.00" stroke="#1e1e26" stroke-width="1.25"/>
<line x1="634.3" y1="417.0" x2="634.3" y2="638.00" stroke="#1e1e26" stroke-width="1.25"/>
<line x1="682.8" y1="417.0" x2="682.8" y2="638.00" stroke="#1e1e26" stroke-width="1.25"/>
<line x1="731.7" y1="417.0" x2="731.7" y2="638.00" stroke="#1e1e26" stroke-width="1.25"/>
<line x1="107.3" y1="391.8" x2="107.3" y2="638.00" stroke="#1e1e26" stroke-width="1.25"/>
<line x1="775.5" y1="391.8" x2="775.5" y2="638.00" stroke="#1e1e26" stroke-width="1.25"/>
</svg><div class="abs spec" style="left:251.4px;top:661.0px;letter-spacing:0.63px">Terminal:</div>
<div class="abs spec" style="left:251.4px;top:681.5px;letter-spacing:0.64px">Insulation:</div>
<div class="abs spec" style="left:251.4px;top:702.0px;letter-spacing:0.75px">Operating temperature:</div>
<div class="abs spec" style="left:251.4px;top:722.5px;letter-spacing:0.49px">Max. electrical current:</div>
<div class="abs spec" style="left:251.4px;top:743.0px;letter-spacing:0.55px">Max. electrical rating:</div><div class="abs spec" style="left:457.4px;top:661.0px;letter-spacing:0.29px">Brass, tin plated</div>
<div class="abs spec" style="left:457.4px;top:681.5px;letter-spacing:0.03px">Vinyl (PVC)</div>
<div class="abs spec" style="left:457.4px;top:702.0px;letter-spacing:-0.08px">-10~75 °C</div>
<div class="abs spec" style="left:457.4px;top:722.5px;letter-spacing:0.09px">300V</div>
<div class="abs spec" style="left:457.4px;top:743.0px;letter-spacing:0.43px">red 10A</div>
<div class="abs spec" style="left:457.4px;top:763.5px;letter-spacing:0.40px">blue 15A</div>
<div class="abs spec" style="left:457.4px;top:784.0px;letter-spacing:0.58px">yellow 24A</div><svg width="789" height="800" viewBox="0 0 789 800" style="pointer-events:none"><defs><filter id="wmb" x="0" y="0" width="100%" height="100%" filterUnits="userSpaceOnUse"><feGaussianBlur stdDeviation="0.85"/></filter></defs>
<g font-size="22" font-weight="bold" fill="#a6a6a6" fill-opacity="0.18" text-anchor="middle" filter="url(#wmb)" style="font-family:'Liberation Sans',sans-serif">
<text class="sans" transform="translate(47.0,47.8) rotate(-45)" y="8">AVSK.EE</text>
<text class="sans" transform="translate(147.4,47.8) rotate(-45)" y="8">AVSK.EE</text>
<text class="sans" transform="translate(247.9,47.8) rotate(-45)" y="8">AVSK.EE</text>
<text class="sans" transform="translate(348.4,47.8) rotate(-45)" y="8">AVSK.EE</text>
<text class="sans" transform="translate(448.8,47.8) rotate(-45)" y="8">AVSK.EE</text>
<text class="sans" transform="translate(549.2,47.8) rotate(-45)" y="8">AVSK.EE</text>
<text class="sans" transform="translate(649.7,47.8) rotate(-45)" y="8">AVSK.EE</text>
<text class="sans" transform="translate(750.1,47.8) rotate(-45)" y="8">AVSK.EE</text>
<text class="sans" transform="translate(850.6,47.8) rotate(-45)" y="8">AVSK.EE</text>
<text class="sans" transform="translate(47.0,148.4) rotate(-45)" y="8">AVSK.EE</text>
<text class="sans" transform="translate(147.4,148.4) rotate(-45)" y="8">AVSK.EE</text>
<text class="sans" transform="translate(247.9,148.4) rotate(-45)" y="8">AVSK.EE</text>
<text class="sans" transform="translate(348.4,148.4) rotate(-45)" y="8">AVSK.EE</text>
<text class="sans" transform="translate(448.8,148.4) rotate(-45)" y="8">AVSK.EE</text>
<text class="sans" transform="translate(549.2,148.4) rotate(-45)" y="8">AVSK.EE</text>
<text class="sans" transform="translate(649.7,148.4) rotate(-45)" y="8">AVSK.EE</text>
<text class="sans" transform="translate(750.1,148.4) rotate(-45)" y="8">AVSK.EE</text>
<text class="sans" transform="translate(850.6,148.4) rotate(-45)" y="8">AVSK.EE</text>
<text class="sans" transform="translate(47.0,249.0) rotate(-45)" y="8">AVSK.EE</text>
<text class="sans" transform="translate(147.4,249.0) rotate(-45)" y="8">AVSK.EE</text>
<text class="sans" transform="translate(247.9,249.0) rotate(-45)" y="8">AVSK.EE</text>
<text class="sans" transform="translate(348.4,249.0) rotate(-45)" y="8">AVSK.EE</text>
<text class="sans" transform="translate(448.8,249.0) rotate(-45)" y="8">AVSK.EE</text>
<text class="sans" transform="translate(549.2,249.0) rotate(-45)" y="8">AVSK.EE</text>
<text class="sans" transform="translate(649.7,249.0) rotate(-45)" y="8">AVSK.EE</text>
<text class="sans" transform="translate(750.1,249.0) rotate(-45)" y="8">AVSK.EE</text>
<text class="sans" transform="translate(850.6,249.0) rotate(-45)" y="8">AVSK.EE</text>
<text class="sans" transform="translate(47.0,349.6) rotate(-45)" y="8">AVSK.EE</text>
<text class="sans" transform="translate(147.4,349.6) rotate(-45)" y="8">AVSK.EE</text>
<text class="sans" transform="translate(247.9,349.6) rotate(-45)" y="8">AVSK.EE</text>
<text class="sans" transform="translate(348.4,349.6) rotate(-45)" y="8">AVSK.EE</text>
<text class="sans" transform="translate(448.8,349.6) rotate(-45)" y="8">AVSK.EE</text>
<text class="sans" transform="translate(549.2,349.6) rotate(-45)" y="8">AVSK.EE</text>
<text class="sans" transform="translate(649.7,349.6) rotate(-45)" y="8">AVSK.EE</text>
<text class="sans" transform="translate(750.1,349.6) rotate(-45)" y="8">AVSK.EE</text>
<text class="sans" transform="translate(850.6,349.6) rotate(-45)" y="8">AVSK.EE</text>
<text class="sans" transform="translate(47.0,450.2) rotate(-45)" y="8">AVSK.EE</text>
<text class="sans" transform="translate(147.4,450.2) rotate(-45)" y="8">AVSK.EE</text>
<text class="sans" transform="translate(247.9,450.2) rotate(-45)" y="8">AVSK.EE</text>
<text class="sans" transform="translate(348.4,450.2) rotate(-45)" y="8">AVSK.EE</text>
<text class="sans" transform="translate(448.8,450.2) rotate(-45)" y="8">AVSK.EE</text>
<text class="sans" transform="translate(549.2,450.2) rotate(-45)" y="8">AVSK.EE</text>
<text class="sans" transform="translate(649.7,450.2) rotate(-45)" y="8">AVSK.EE</text>
<text class="sans" transform="translate(750.1,450.2) rotate(-45)" y="8">AVSK.EE</text>
<text class="sans" transform="translate(850.6,450.2) rotate(-45)" y="8">AVSK.EE</text>
<text class="sans" transform="translate(47.0,550.8) rotate(-45)" y="8">AVSK.EE</text>
<text class="sans" transform="translate(147.4,550.8) rotate(-45)" y="8">AVSK.EE</text>
<text class="sans" transform="translate(247.9,550.8) rotate(-45)" y="8">AVSK.EE</text>
<text class="sans" transform="translate(348.4,550.8) rotate(-45)" y="8">AVSK.EE</text>
<text class="sans" transform="translate(448.8,550.8) rotate(-45)" y="8">AVSK.EE</text>
<text class="sans" transform="translate(549.2,550.8) rotate(-45)" y="8">AVSK.EE</text>
<text class="sans" transform="translate(649.7,550.8) rotate(-45)" y="8">AVSK.EE</text>
<text class="sans" transform="translate(750.1,550.8) rotate(-45)" y="8">AVSK.EE</text>
<text class="sans" transform="translate(850.6,550.8) rotate(-45)" y="8">AVSK.EE</text>
<text class="sans" transform="translate(47.0,651.4) rotate(-45)" y="8">AVSK.EE</text>
<text class="sans" transform="translate(147.4,651.4) rotate(-45)" y="8">AVSK.EE</text>
<text class="sans" transform="translate(247.9,651.4) rotate(-45)" y="8">AVSK.EE</text>
<text class="sans" transform="translate(348.4,651.4) rotate(-45)" y="8">AVSK.EE</text>
<text class="sans" transform="translate(448.8,651.4) rotate(-45)" y="8">AVSK.EE</text>
<text class="sans" transform="translate(549.2,651.4) rotate(-45)" y="8">AVSK.EE</text>
<text class="sans" transform="translate(649.7,651.4) rotate(-45)" y="8">AVSK.EE</text>
<text class="sans" transform="translate(750.1,651.4) rotate(-45)" y="8">AVSK.EE</text>
<text class="sans" transform="translate(850.6,651.4) rotate(-45)" y="8">AVSK.EE</text>
<text class="sans" transform="translate(47.0,752.0) rotate(-45)" y="8">AVSK.EE</text>
<text class="sans" transform="translate(147.4,752.0) rotate(-45)" y="8">AVSK.EE</text>
<text class="sans" transform="translate(247.9,752.0) rotate(-45)" y="8">AVSK.EE</text>
<text class="sans" transform="translate(348.4,752.0) rotate(-45)" y="8">AVSK.EE</text>
<text class="sans" transform="translate(448.8,752.0) rotate(-45)" y="8">AVSK.EE</text>
<text class="sans" transform="translate(549.2,752.0) rotate(-45)" y="8">AVSK.EE</text>
<text class="sans" transform="translate(649.7,752.0) rotate(-45)" y="8">AVSK.EE</text>
<text class="sans" transform="translate(750.1,752.0) rotate(-45)" y="8">AVSK.EE</text>
<text class="sans" transform="translate(850.6,752.0) rotate(-45)" y="8">AVSK.EE</text>
<text class="sans" transform="translate(47.0,852.6) rotate(-45)" y="8">AVSK.EE</text>
<text class="sans" transform="translate(147.4,852.6) rotate(-45)" y="8">AVSK.EE</text>
<text class="sans" transform="translate(247.9,852.6) rotate(-45)" y="8">AVSK.EE</text>
<text class="sans" transform="translate(348.4,852.6) rotate(-45)" y="8">AVSK.EE</text>
<text class="sans" transform="translate(448.8,852.6) rotate(-45)" y="8">AVSK.EE</text>
<text class="sans" transform="translate(549.2,852.6) rotate(-45)" y="8">AVSK.EE</text>
<text class="sans" transform="translate(649.7,852.6) rotate(-45)" y="8">AVSK.EE</text>
<text class="sans" transform="translate(750.1,852.6) rotate(-45)" y="8">AVSK.EE</text>
<text class="sans" transform="translate(850.6,852.6) rotate(-45)" y="8">AVSK.EE</text>
</g></svg></body></html>
